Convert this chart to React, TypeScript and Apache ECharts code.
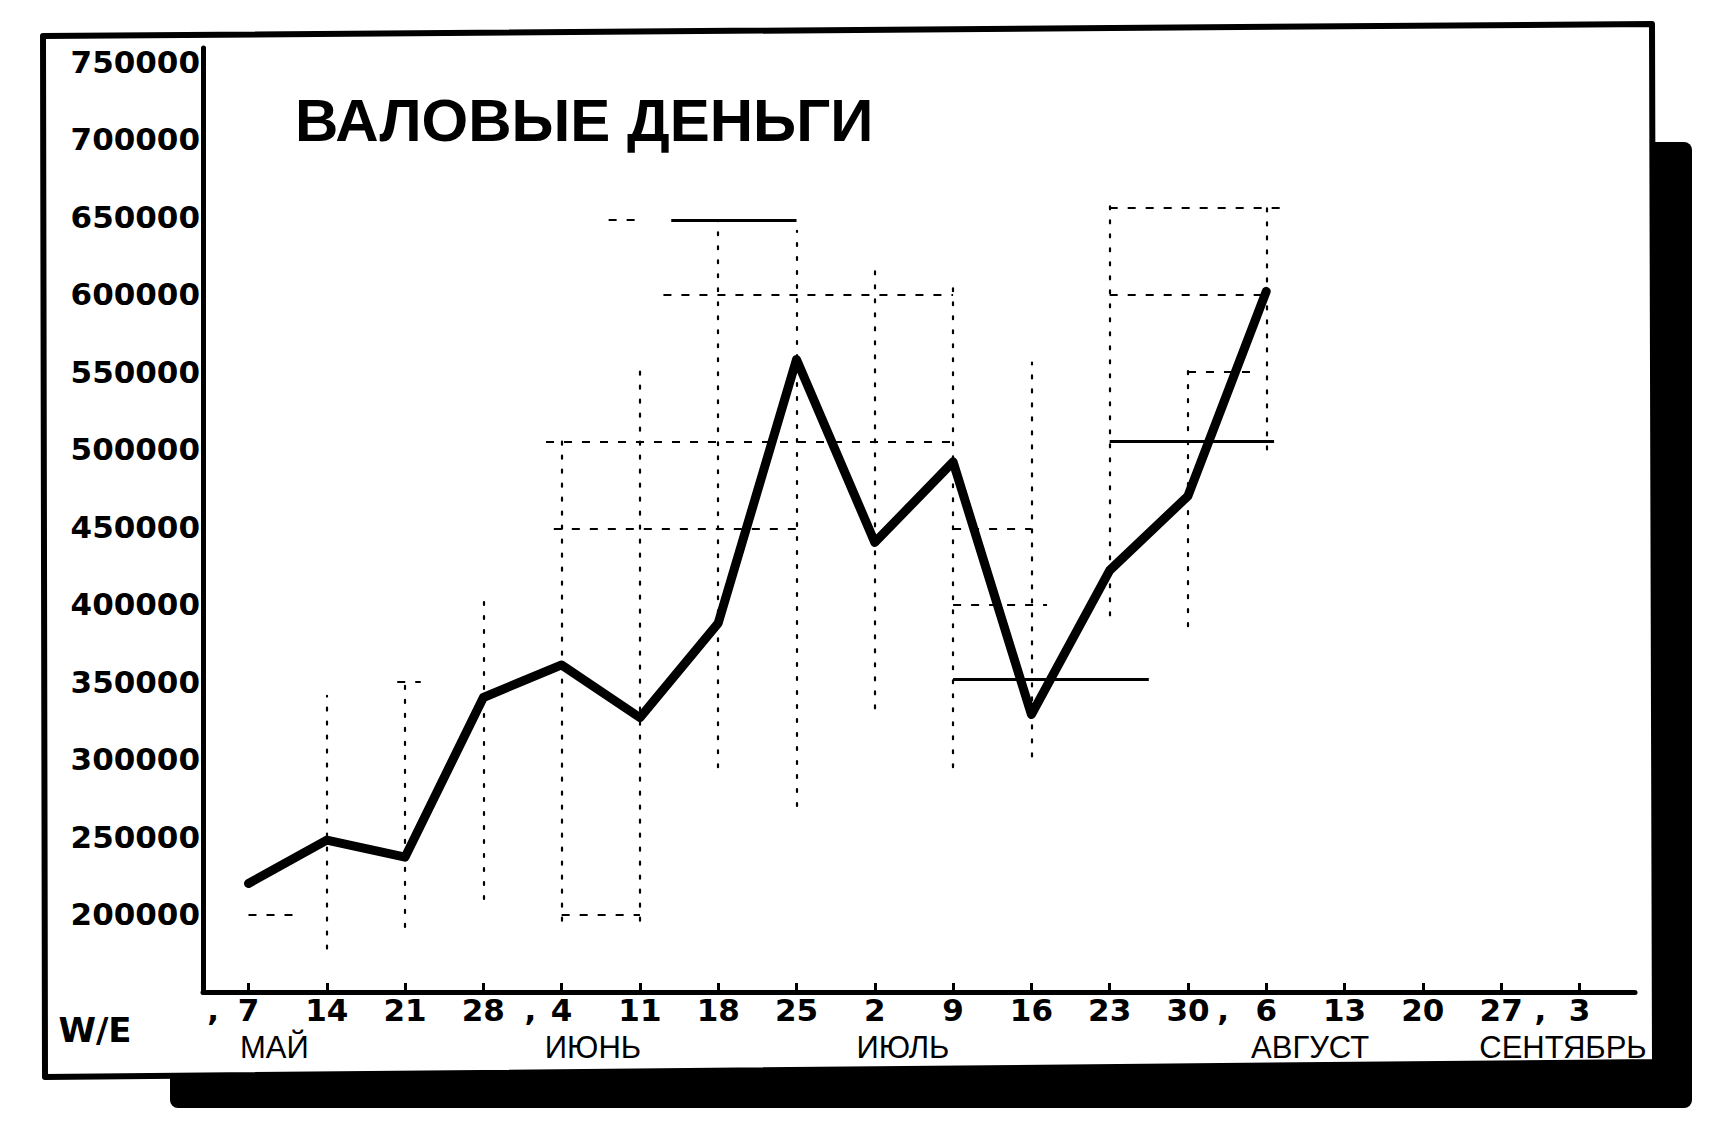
import React, { useEffect, useRef } from 'react';
import * as echarts from 'echarts';

// week-ending dates (x categories)
const weekLabels = ['7', '14', '21', '28', '4', '11', '18', '25', '2', '9', '16', '23', '30', '6', '13', '20', '27', '3'];
// gross money per week (only first 14 weeks drawn)
const grossMoney = [220000, 248000, 237000, 340000, 361000, 327000, 388000, 558000, 440000, 492000, 329000, 422000, 470000, 602000];
// month names and their position along the week index
const monthNames = ['МАЙ', 'ИЮНЬ', 'ИЮЛЬ', 'АВГУСТ', 'СЕНТЯБРЬ'];
const monthCenters = [0.33, 4.4, 8.36, 13.56, 16.79];
// month separators between week labels
const monthBreaks = [-0.45, 3.6, 12.45, 16.5];
const yMin = 150000;
const yMax = 759000;
const yStep = 50000;

// hand-drawn guide lines in data space: [weekIndex, fromValue, toValue]
const verticalGuides = [
  [1, 178000, 341000],
  [2, 192000, 351000],
  [3, 210000, 404000],
  [4, 196000, 507000],
  [5, 196000, 553000],
  [6, 295000, 648000],
  [7, 270000, 641000],
  [8, 333000, 620000],
  [9, 295000, 609000],
  [10, 302000, 556000],
  [11, 393000, 659000],
  [12, 386000, 556000],
  [13, 500000, 659000],
];
// [value, fromIndex, toIndex, solid(1) / dashed(0)]
const horizontalGuides = [
  [200000, 0, 0.6, 0],
  [200000, 4, 5, 0],
  [350000, 1.9, 2.2, 0],
  [505000, 3.8, 9, 0],
  [505000, 11, 13.1, 1],
  [600000, 5.3, 9, 0],
  [600000, 11, 13, 0],
  [648000, 5.4, 7, 1],
  [648000, 4.6, 5, 0],
  [656000, 11, 13.2, 0],
  [550000, 12, 12.8, 0],
  [449000, 3.9, 7.1, 0],
  [449000, 9, 10, 0],
  [400000, 9, 10.2, 0],
  [352000, 9, 11.5, 1],
];

export default function App() {
  const ref = useRef<HTMLDivElement>(null);

  useEffect(() => {
    if (!ref.current) return;
    const chart = echarts.init(ref.current, null, { renderer: 'svg' });
    const hand = '"DejaVu Sans", sans-serif';
    const sans = '"Liberation Sans", Arial, sans-serif';

    const dotted = { type: [3, 11], width: 2.2, color: '#000', cap: 'round' };
    const guideData: any[] = [
      ...verticalGuides.map(([x, y0, y1]) => [
        { coord: [x, y0], lineStyle: dotted },
        { coord: [x, y1] },
      ]),
      ...horizontalGuides.map(([y, x0, x1, solid]) => [
        {
          coord: [x0, y],
          lineStyle: solid ? { type: 'solid', width: 3, color: '#000' } : { type: [8, 10], width: 2.2, color: '#000' },
        },
        { coord: [x1, y] },
      ]),
    ];

    const weekTicks = weekLabels.map((_, i) => i);

    chart.setOption({
      animation: false,
      backgroundColor: '#fff',
      graphic: {
        elements: [
          {
            type: 'rect',
            z: -20,
            shape: { x: 170, y: 142, width: 1522, height: 966, r: 8 },
            style: { fill: '#000' },
          },
          {
            type: 'polygon',
            z: -10,
            shape: { points: [[43, 36], [1652, 24], [1655, 1062], [45, 1077]] },
            style: { fill: '#fff', stroke: '#000', lineWidth: 6, lineJoin: 'round' },
          },
          {
            type: 'text',
            x: 295,
            y: 120,
            style: {
              text: 'ВАЛОВЫЕ ДЕНЬГИ',
              font: `bold 60px ${sans}`,
              fill: '#000',
              textAlign: 'left',
              textVerticalAlign: 'middle',
            },
          },
          {
            type: 'text',
            x: 95,
            y: 1030,
            style: {
              text: 'W/E',
              font: `bold 34px ${hand}`,
              fill: '#000',
              textAlign: 'center',
              textVerticalAlign: 'middle',
            },
          },
        ],
      },
      grid: { left: 203, right: 81, top: 48, bottom: 140, containLabel: false },
      xAxis: [
        {
          type: 'value',
          min: -0.581,
          max: 17.71,
          splitLine: { show: false },
          axisLine: { show: true, onZero: false, lineStyle: { color: '#000', width: 5 } },
          axisTick: {
            show: true,
            inside: true,
            length: 9,
            customValues: weekTicks,
            lineStyle: { color: '#000', width: 3 },
          },
          axisLabel: {
            show: true,
            customValues: [...weekTicks, ...monthBreaks],
            margin: 2,
            color: '#000',
            fontFamily: hand,
            fontWeight: 'bold',
            fontSize: 31,
            formatter: (v: number) => (Number.isInteger(v) ? weekLabels[v] : ','),
          },
        },
        {
          type: 'value',
          position: 'bottom',
          offset: 40,
          min: -0.581,
          max: 17.71,
          splitLine: { show: false },
          axisLine: { show: false },
          axisTick: { show: false },
          axisLabel: {
            show: true,
            customValues: monthCenters,
            margin: 0,
            color: '#000',
            fontFamily: sans,
            fontSize: 31,
            formatter: (v: number) => {
              const i = monthCenters.indexOf(v);
              return i >= 0 ? monthNames[i] : '';
            },
          },
        },
      ],
      yAxis: {
        type: 'value',
        min: yMin,
        max: yMax,
        interval: yStep,
        splitLine: { show: false },
        axisLine: { show: true, onZero: false, lineStyle: { color: '#000', width: 5 } },
        axisTick: { show: false },
        axisLabel: {
          margin: 3,
          color: '#000',
          fontFamily: hand,
          fontWeight: 'bold',
          fontSize: 31,
          formatter: (v: number) => (v % yStep === 0 && v > yMin ? String(v) : ''),
        },
      },
      series: [
        {
          type: 'line',
          z: 1,
          data: [],
          silent: true,
          markLine: {
            silent: true,
            symbol: ['none', 'none'],
            label: { show: false },
            emphasis: { disabled: true },
            data: guideData,
          },
        },
        {
          type: 'line',
          z: 3,
          xAxisIndex: 0,
          data: grossMoney.map((v, i) => [i, v]),
          showSymbol: false,
          symbol: 'none',
          lineStyle: { color: '#000', width: 9, join: 'round', cap: 'round' },
          silent: true,
        },
      ],
    });

    return () => chart.dispose();
  }, []);

  return (
    <div
      ref={ref}
      style={{ position: 'absolute', left: 0, top: 0, width: 1716, height: 1132, background: '#fff' }}
    />
  );
}
